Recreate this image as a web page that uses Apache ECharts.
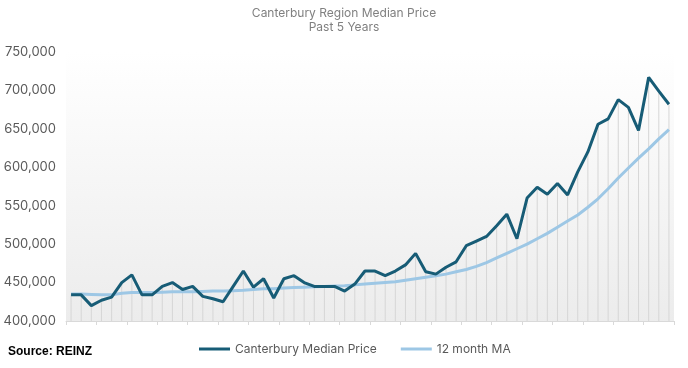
<!DOCTYPE html>
<html>
<head>
<meta charset="utf-8">
<script src="https://cdn.jsdelivr.net/npm/echarts@6/dist/echarts.min.js"></script>
<style>html,body{margin:0;padding:0;background:#fff}#c{width:688px;height:368px}</style>
</head>
<body>
<div id="c"></div>
<script>
const titleLines = ['Canterbury Region Median Price', 'Past 5 Years'];
const seriesNames = ['Canterbury Median Price', '12 month MA'];
const categories = Array.from({length: 60}, (_, i) => 'M' + (i + 1));
const medianPrice = [434000, 434000, 420000, 427000, 431000, 450000, 460000, 434000, 434000, 445000,
  450000, 441000, 445000, 432000, 429000, 425000, 445000, 465000, 444000, 455000,
  430000, 455000, 459000, 450000, 445000, 445000, 445000, 439000, 448000, 465000,
  465000, 459000, 465000, 473000, 488000, 464000, 461000, 470000, 477000, 498000,
  504000, 510000, 524000, 539000, 507000, 560000, 574000, 565000, 579000, 564000,
  594000, 620000, 656000, 663000, 688000, 678000, 648000, 717000, 699000, 682000];
const movingAvg = [435000, 435000, 434500, 434000, 434000, 436000, 437000, 437000, 437000, 437500,
  438000, 438000, 438000, 438500, 439000, 439000, 439500, 440000, 441000, 442000,
  442000, 443000, 443500, 444000, 444500, 445000, 445500, 446000, 447000, 448000,
  449000, 450000, 451000, 453000, 455000, 457000, 459000, 461000, 464000, 467000,
  471000, 476000, 482000, 488000, 494000, 500000, 507000, 514000, 522000, 530000,
  538000, 548000, 559000, 572000, 586000, 599000, 612000, 624000, 637000, 649000];
const yMin = 400000, yMax = 750000, yStep = 50000;

const chart = echarts.init(document.getElementById('c'));
const font = 'Inter, "Noto Sans", sans-serif';
chart.setOption({
  animation: false,
  title: {
    text: titleLines.join('\n'),
    left: 'center', top: 1,
    textStyle: {fontFamily: font, fontSize: 12, fontWeight: 'normal', color: '#808080', lineHeight: 14}
  },
  legend: {
    data: seriesNames,
    bottom: 8, left: 194,
    icon: 'rect', itemWidth: 31, itemHeight: 3, itemGap: 24,
    textStyle: {fontFamily: font, fontSize: 12, color: '#595959'}
  },
  graphic: [{
    type: 'text', left: 8, top: 346,
    style: {text: 'Source: REINZ', fontFamily: '"Liberation Sans Narrow", "Liberation Sans", Arial, sans-serif', fontWeight: 'bold', fontSize: 12, fill: '#000'}
  }],
  grid: {
    left: 66, right: 14, top: 52, bottom: 47, show: true, borderWidth: 0,
    backgroundColor: new echarts.graphic.LinearGradient(0, 0, 0, 1, [
      {offset: 0, color: '#ffffff'}, {offset: 1, color: '#ececec'}
    ])
  },
  xAxis: {
    type: 'category', data: categories, boundaryGap: true,
    axisLine: {lineStyle: {color: '#d9d9d9'}},
    axisTick: {show: true, length: 4, lineStyle: {color: '#d9d9d9'}},
    axisLabel: {show: false}
  },
  yAxis: {
    type: 'value', min: yMin, max: yMax, interval: yStep,
    axisLine: {show: false}, axisTick: {show: false}, splitLine: {show: false},
    axisLabel: {
      fontFamily: font, fontSize: 13, color: '#595959', margin: 10,
      formatter: v => v.toLocaleString('en-US')
    }
  },
  series: [
    {
      type: 'bar', data: medianPrice, barWidth: 1, silent: true,
      itemStyle: {color: '#d6d6d6'}, legendHoverLink: false, z: 1
    },
    {
      name: seriesNames[1], type: 'line', data: movingAvg, symbol: 'none',
      lineStyle: {color: '#9dc7e5', width: 3}, itemStyle: {color: '#9dc7e5'}, z: 3
    },
    {
      name: seriesNames[0], type: 'line', data: medianPrice, symbol: 'none',
      lineStyle: {color: '#175c76', width: 3}, itemStyle: {color: '#175c76'}, z: 4
    }
  ]
});
</script>
</body>
</html>
